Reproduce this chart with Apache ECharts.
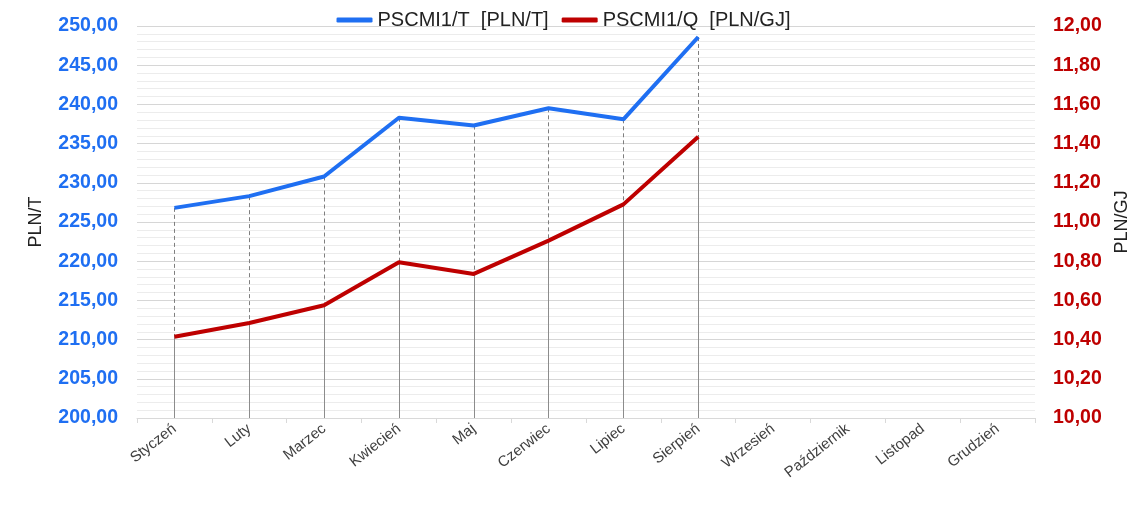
<!DOCTYPE html>
<html>
<head>
<meta charset="utf-8">
<style>
  html, body { margin: 0; padding: 0; background: #fff; }
  #chart { width: 1127px; height: 507px; }
</style>
<script src="https://cdn.jsdelivr.net/npm/echarts@6/dist/echarts.min.js"></script>
</head>
<body>
<div id="chart"></div>
<script>
var months = ['Styczeń', 'Luty', 'Marzec', 'Kwiecień', 'Maj', 'Czerwiec', 'Lipiec',
  'Sierpień', 'Wrzesień', 'Październik', 'Listopad', 'Grudzień'];
var pricePerTon = [226.8, 228.3, 230.8, 238.3, 237.3, 239.5, 238.1, 248.6];
var pricePerGJ = [10.415, 10.485, 10.575, 10.795, 10.735, 10.905, 11.09, 11.435];
var leftTicks = [200, 250, 5];
var rightTicks = [10, 12, 0.2];

var FONT = 'Liberation Sans, Arial, sans-serif';
var BLUE = '#1f6ff2';
var RED = '#be0000';

function comma(v) {
  return v.toFixed(2).replace('.', ',');
}

// Excel style drop lines, point down to the axis bottom
function dropLines(values, bottom) {
  return values.map(function (v, i) {
    return [{ coord: [i, v] }, { coord: [i, bottom] }];
  });
}

var chart = echarts.init(document.getElementById('chart'));

var option = {
  animation: false,
  backgroundColor: '#fff',
  textStyle: { fontFamily: FONT },
  legend: {
    top: 5,
    left: 'center',
    icon: 'roundRect',
    itemWidth: 36,
    itemHeight: 5,
    itemGap: 13,
    textStyle: { fontSize: 20, color: '#222', fontFamily: FONT },
    data: ['PSCMI1/T  [PLN/T]', 'PSCMI1/Q  [PLN/GJ]']
  },
  grid: { left: 137, right: 92, top: 26, bottom: 89, outerBoundsMode: 'none' },
  xAxis: {
    type: 'category',
    data: months,
    boundaryGap: true,
    axisLine: { lineStyle: { color: '#d9d9d9' } },
    axisTick: { show: true, length: 5, lineStyle: { color: '#d9d9d9' } },
    axisLabel: {
      rotate: 38,
      interval: 0,
      margin: 9,
      fontSize: 15,
      color: '#404040',
      fontFamily: FONT
    }
  },
  yAxis: [
    {
      type: 'value',
      min: leftTicks[0],
      max: leftTicks[1],
      interval: leftTicks[2],
      name: 'PLN/T',
      nameLocation: 'middle',
      nameRotate: 90,
      nameGap: 92,
      nameTextStyle: { fontSize: 18, color: '#222', fontFamily: FONT },
      axisLine: { show: false },
      axisTick: { show: false },
      axisLabel: {
        margin: 19,
        fontSize: 19.5,
        fontWeight: 'bold',
        color: BLUE,
        fontFamily: FONT,
        formatter: comma
      },
      splitLine: { lineStyle: { color: '#d6d6d6', width: 1 } },
      minorTick: { show: false, splitNumber: 5 },
      minorSplitLine: { show: true, lineStyle: { color: '#ececec', width: 1 } }
    },
    {
      type: 'value',
      min: rightTicks[0],
      max: rightTicks[1],
      interval: rightTicks[2],
      position: 'right',
      name: 'PLN/GJ',
      nameLocation: 'middle',
      nameRotate: 90,
      nameGap: 78,
      nameTextStyle: { fontSize: 18, color: '#222', fontFamily: FONT },
      axisLine: { show: false },
      axisTick: { show: false },
      axisLabel: {
        margin: 18,
        fontSize: 19.5,
        fontWeight: 'bold',
        color: RED,
        fontFamily: FONT,
        formatter: comma
      },
      splitLine: { show: false }
    }
  ],
  series: [
    {
      name: 'PSCMI1/T  [PLN/T]',
      type: 'line',
      yAxisIndex: 0,
      data: pricePerTon,
      symbol: 'none',
      lineStyle: { color: BLUE, width: 4 },
      itemStyle: { color: BLUE },
      z: 5,
      markLine: {
        silent: true,
        symbol: 'none',
        label: { show: false },
        lineStyle: { color: '#7f7f7f', width: 1, type: [4, 3] },
        data: dropLines(pricePerTon, leftTicks[0])
      }
    },
    {
      name: 'PSCMI1/Q  [PLN/GJ]',
      type: 'line',
      yAxisIndex: 1,
      data: pricePerGJ,
      symbol: 'none',
      lineStyle: { color: RED, width: 4 },
      itemStyle: { color: RED },
      z: 6,
      markLine: {
        silent: true,
        symbol: 'none',
        label: { show: false },
        lineStyle: { color: '#8c8c8c', width: 1, type: 'solid' },
        data: dropLines(pricePerGJ, rightTicks[0])
      }
    }
  ]
};

chart.setOption(option);
</script>
</body>
</html>
